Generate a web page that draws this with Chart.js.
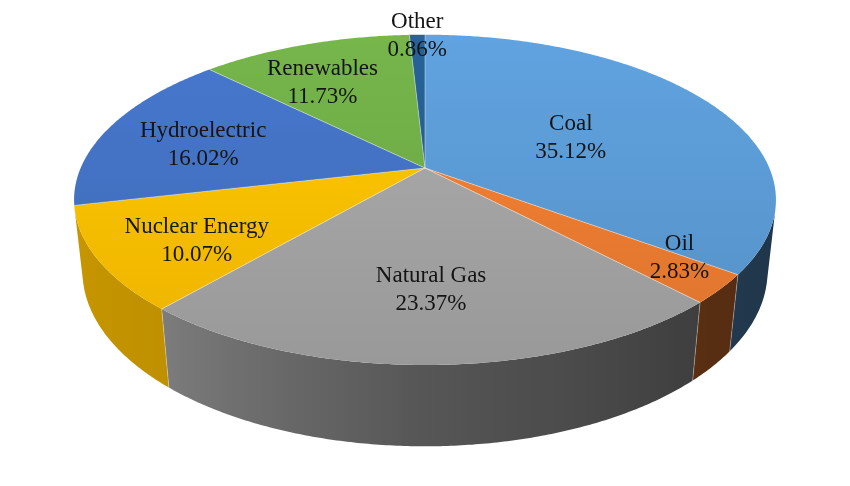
<!DOCTYPE html>
<html>
<head>
<meta charset="utf-8">
<script src="https://cdn.jsdelivr.net/npm/chart.js@4.4.1/dist/chart.umd.min.js"></script>
<style>
  html, body { margin: 0; padding: 0; background: #ffffff; }
  #wrap { width: 850px; height: 486px; }
</style>
</head>
<body>
<div id="wrap"><canvas id="c" width="850" height="486"></canvas></div>
<script>
// ---- data ----
const categories = ['Coal', 'Oil', 'Natural Gas', 'Nuclear Energy', 'Hydroelectric', 'Renewables', 'Other'];
const shares = [35.12, 2.83, 23.37, 10.07, 16.02, 11.73, 0.86];

// ---- styling / layout (not data) ----
const sliceColors = ['#5b9bd5', '#ed7d31', '#a5a5a5', '#ffc000', '#4472c4', '#70ad47', '#255e91'];
const labelRadius = [0.48, 0.84, 0.67, 0.74, 0.68, 0.68, 0.99];
const labelAngleShift = [3, -4, 0, -3.5, -3, -5, 0];
const VIEW = { cy: 168, F: 1584, D: 4.6, tilt: 27.5 * Math.PI / 180, thick: 0.2365 };

function hexToRgb(h) {
  const n = parseInt(h.slice(1), 16);
  return [(n >> 16) & 255, (n >> 8) & 255, n & 255];
}
function shade(hex, f) {
  const [r, g, b] = hexToRgb(hex);
  const c = v => Math.max(0, Math.min(255, Math.round(v * f)));
  return 'rgb(' + c(r) + ',' + c(g) + ',' + c(b) + ')';
}
function wallFactor(phi) {
  const deg = phi * 180 / Math.PI;
  const t = [[0, 0.33], [45, 0.37], [90, 0.52], [130, 0.75], [180, 0.80]];
  for (let i = 1; i < t.length; i++) {
    if (deg <= t[i][0]) {
      const u = (deg - t[i - 1][0]) / (t[i][0] - t[i - 1][0]);
      return t[i - 1][1] + u * (t[i][1] - t[i - 1][1]);
    }
  }
  return t[t.length - 1][1];
}

function projector(cx) {
  const { F, D, tilt, cy } = VIEW;
  const sA = Math.sin(tilt), cA = Math.cos(tilt);
  return (X, Y, Z) => {
    const d = D - Y * cA - Z * sA;
    return [cx + F * X / d, cy + F * (Y * sA - Z * cA) / d];
  };
}

const pie3d = {
  id: 'pie3d',
  beforeDatasetsDraw(chart) {
    const ctx = chart.ctx;
    const arcs = chart.getDatasetMeta(0).data;
    const colors = chart.data.datasets[0].backgroundColor;
    const P = projector(arcs[0].x);
    const { D, tilt, thick } = VIEW;
    const lo = Math.asin(1 / (D * Math.cos(tilt))), hi = Math.PI - lo;
    const step = Math.PI / 360;
    const W = chart.width;
    ctx.save();
    // outer walls (front-facing part), one path per slice with horizontal shading
    arcs.forEach((arc, i) => {
      const a0 = Math.max(arc.startAngle, lo), a1 = Math.min(arc.endAngle, hi);
      if (a1 <= a0) return;
      const n = Math.max(2, Math.ceil((a1 - a0) / step));
      const top = [], bot = [];
      for (let k = 0; k <= n; k++) {
        const p = a0 + (a1 - a0) * k / n;
        top.push(P(Math.cos(p), Math.sin(p), 0));
        bot.push(P(Math.cos(p), Math.sin(p), -thick));
      }
      ctx.beginPath();
      ctx.moveTo(top[0][0], top[0][1]);
      for (let k = 1; k <= n; k++) ctx.lineTo(top[k][0], top[k][1]);
      for (let k = n; k >= 0; k--) ctx.lineTo(bot[k][0], bot[k][1]);
      ctx.closePath();
      const g = ctx.createLinearGradient(0, 0, W, 0);
      for (let k = 0; k <= 90; k++) {
        const p = lo + (hi - lo) * k / 90;
        const x = P(Math.cos(p), Math.sin(p), 0)[0];
        g.addColorStop(Math.max(0, Math.min(1, x / W)), shade(colors[i], wallFactor(p)));
      }
      ctx.fillStyle = g;
      ctx.fill();
    });
    // wall separators
    ctx.strokeStyle = 'rgba(255,255,255,0.3)';
    ctx.lineWidth = 1;
    arcs.forEach(arc => {
      const a = arc.startAngle;
      if (a > lo && a < hi) {
        const t = P(Math.cos(a), Math.sin(a), 0), b = P(Math.cos(a), Math.sin(a), -thick);
        ctx.beginPath(); ctx.moveTo(t[0], t[1]); ctx.lineTo(b[0], b[1]); ctx.stroke();
      }
    });
    // top faces
    const yTop = P(0, -1, 0)[1], yBot = P(0, 1, 0)[1];
    const apex = P(0, 0, 0);
    arcs.forEach((arc, i) => {
      const a0 = arc.startAngle, a1 = arc.endAngle;
      const n = Math.max(2, Math.ceil((a1 - a0) / step));
      ctx.beginPath();
      ctx.moveTo(apex[0], apex[1]);
      for (let k = 0; k <= n; k++) {
        const p = a0 + (a1 - a0) * k / n;
        const q = P(Math.cos(p), Math.sin(p), 0);
        ctx.lineTo(q[0], q[1]);
      }
      ctx.closePath();
      const g = ctx.createLinearGradient(0, yTop, 0, yBot);
      g.addColorStop(0, shade(colors[i], 1.05));
      g.addColorStop(1, shade(colors[i], 0.93));
      ctx.fillStyle = g;
      ctx.fill();
    });
    // radial edges
    ctx.strokeStyle = 'rgba(255,255,255,0.4)';
    ctx.lineWidth = 1;
    arcs.forEach(arc => {
      const a = arc.startAngle;
      const q = P(Math.cos(a), Math.sin(a), 0);
      ctx.beginPath(); ctx.moveTo(apex[0], apex[1]); ctx.lineTo(q[0], q[1]); ctx.stroke();
    });
    ctx.restore();
    return false;
  },
  afterDraw(chart) {
    const ctx = chart.ctx;
    const arcs = chart.getDatasetMeta(0).data;
    const P = projector(arcs[0].x);
    ctx.save();
    ctx.font = '23px "Liberation Serif", "Times New Roman", serif';
    ctx.fillStyle = '#141414';
    ctx.textAlign = 'center';
    ctx.textBaseline = 'middle';
    arcs.forEach((arc, i) => {
      const mid = (arc.startAngle + arc.endAngle) / 2 + labelAngleShift[i] * Math.PI / 180;
      const r = labelRadius[i];
      const q = P(r * Math.cos(mid), r * Math.sin(mid), 0);
      ctx.fillText(chart.data.labels[i], q[0], q[1] - 14);
      ctx.fillText(chart.data.datasets[0].data[i].toFixed(2) + '%', q[0], q[1] + 14);
    });
    ctx.restore();
  }
};

new Chart(document.getElementById('c'), {
  type: 'pie',
  data: {
    labels: categories,
    datasets: [{ data: shares, backgroundColor: sliceColors, borderWidth: 0 }]
  },
  options: {
    responsive: false,
    animation: false,
    layout: { padding: 0 },
    plugins: { legend: { display: false }, tooltip: { enabled: false } }
  },
  plugins: [pie3d]
});
</script>
</body>
</html>
